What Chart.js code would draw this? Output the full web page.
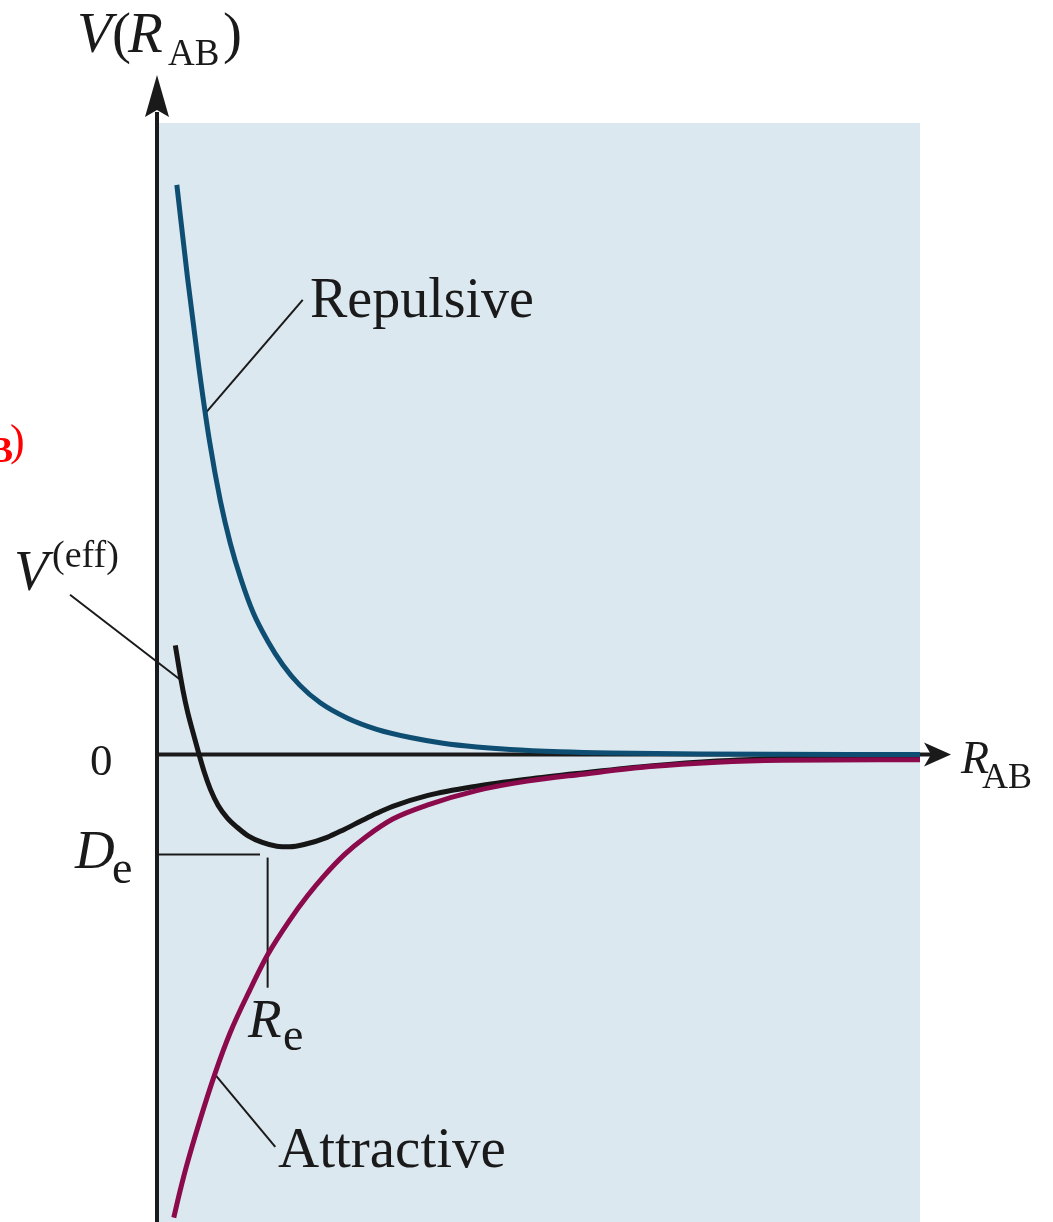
<!DOCTYPE html>
<html>
<head>
<meta charset="utf-8">
<script src="https://cdn.jsdelivr.net/npm/chart.js@4.4.1/dist/chart.umd.min.js"></script>
<style>
  html, body { margin: 0; padding: 0; background: #ffffff; }
  canvas { display: block; }
</style>
</head>
<body>
<canvas id="chart" width="1053" height="1222"></canvas>
<script>
// Potential energy curves V(R_AB) (arbitrary units)
const repulsiveR = [0.26, 0.40, 0.55, 0.69, 0.83, 0.96, 1.10, 1.26, 1.45, 1.65, 1.87, 2.14, 2.49, 2.88, 3.32, 3.75, 4.19, 4.63, 5.28, 5.94, 7.12, 10.0];
const repulsiveV = [9.02, 7.55, 6.12, 4.95, 4.02, 3.35, 2.78, 2.25, 1.80, 1.42, 1.10, 0.82, 0.58, 0.40, 0.27, 0.18, 0.12, 0.08, 0.045, 0.025, 0.01, 0.0];

const effectiveR = [0.24, 0.29, 0.34, 0.40, 0.47, 0.54, 0.62, 0.70, 0.80, 0.92, 1.05, 1.20, 1.38, 1.57, 1.74, 1.94, 2.23, 2.46, 2.66, 2.88, 3.09, 3.54, 4.19, 4.85, 5.58, 6.46, 7.34, 8.20, 9.08, 10.0];
const effectiveV = [1.73, 1.36, 1.02, 0.68, 0.36, 0.05, -0.28, -0.55, -0.80, -1.00, -1.15, -1.29, -1.39, -1.45, -1.46, -1.42, -1.31, -1.18, -1.06, -0.93, -0.82, -0.65, -0.50, -0.39, -0.29, -0.18, -0.10, -0.06, -0.04, -0.04];

const attractiveR = [0.22, 0.30, 0.39, 0.56, 0.76, 0.96, 1.22, 1.45, 1.74, 1.97, 2.19, 2.46, 2.74, 3.09, 3.54, 4.19, 4.85, 5.58, 6.46, 7.34, 8.20, 10.0];
const attractiveV = [-7.33, -6.92, -6.50, -5.80, -5.05, -4.40, -3.72, -3.17, -2.62, -2.24, -1.92, -1.58, -1.30, -1.02, -0.80, -0.57, -0.42, -0.31, -0.19, -0.12, -0.09, -0.08];

// Marked equilibrium point
const De = -1.58;
const Re = 1.45;

const toPoints = (xs, ys) => xs.map((x, i) => ({ x, y: ys[i] }));

// Background panel, axes with arrows, leader lines and labels
const diagramPlugin = {
  id: 'diagram',
  beforeDatasetsDraw(chart) {
    const { ctx, chartArea, scales } = chart;
    const x0 = scales.x.getPixelForValue(0);
    const y0 = scales.y.getPixelForValue(0);
    ctx.save();
    ctx.fillStyle = '#dce8f0';
    ctx.fillRect(chartArea.left, chartArea.top, chartArea.right - chartArea.left, chartArea.bottom - chartArea.top);

    ctx.strokeStyle = '#1a1a1a';
    ctx.fillStyle = '#1a1a1a';
    ctx.lineWidth = 4;
    // y axis
    ctx.beginPath();
    ctx.moveTo(x0, chartArea.bottom);
    ctx.lineTo(x0, 112);
    ctx.stroke();
    ctx.beginPath();
    ctx.moveTo(x0, 75);
    ctx.lineTo(x0 - 12, 117);
    ctx.lineTo(x0, 110);
    ctx.lineTo(x0 + 12, 117);
    ctx.closePath();
    ctx.fill();
    // x axis
    ctx.beginPath();
    ctx.moveTo(x0, y0);
    ctx.lineTo(932, y0);
    ctx.stroke();
    ctx.beginPath();
    ctx.moveTo(951, y0);
    ctx.lineTo(924, y0 - 12);
    ctx.lineTo(931, y0);
    ctx.lineTo(924, y0 + 12);
    ctx.closePath();
    ctx.fill();

    // leader lines in data units
    const seg = (xa, ya, xb, yb, w) => {
      ctx.lineWidth = w;
      ctx.beginPath();
      ctx.moveTo(scales.x.getPixelForValue(xa), scales.y.getPixelForValue(ya));
      ctx.lineTo(scales.x.getPixelForValue(xb), scales.y.getPixelForValue(yb));
      ctx.stroke();
    };
    seg(0, De, 1.35, De, 2);
    seg(Re, -1.63, Re, -3.69, 2);
    seg(1.91, 7.20, 0.63, 5.40, 2);
    seg(-1.14, 2.53, 0.31, 1.18, 2);
    seg(0.77, -5.08, 1.55, -6.21, 2);
    ctx.restore();
  },
  afterDraw(chart) {
    const { ctx } = chart;
    const serif = '"Liberation Serif", "DejaVu Serif", serif';
    const text = (s, x, y, size, italic, color, align) => {
      ctx.font = (italic ? 'italic ' : '') + size + 'px ' + serif;
      ctx.fillStyle = color || '#1a1a1a';
      ctx.textAlign = align || 'left';
      ctx.textBaseline = 'alphabetic';
      ctx.fillText(s, x, y);
    };
    ctx.save();
    // V(R_AB)
    text('V', 77, 52, 57, true);
    text('(', 112, 52, 57, false);
    text('R', 128, 52, 57, true);
    text('AB', 168, 65, 37, false);
    text(')', 223, 52, 57, false);
    // R_AB on the x axis
    text('R', 961, 773, 46, true);
    text('AB', 982, 788, 36, false);
    // zero
    text('0', 90, 775, 45, false);
    // D_e, R_e
    text('D', 75, 868, 55, true);
    text('e', 112, 883, 46, false);
    text('R', 248, 1037, 55, true);
    text('e', 283, 1050, 46, false);
    // V^(eff)
    text('V', 14, 590, 56, true);
    text('(eff)', 52, 567, 38, false);
    // curve names
    text('Repulsive', 310, 317, 56, false);
    text('Attractive', 278, 1167, 57, false);
    // red fragment cut at the left edge
    ctx.font = 'bold 36px ' + serif;
    ctx.fillStyle = '#ff0000';
    ctx.textAlign = 'right';
    ctx.fillText('AB', 13, 462);
    ctx.font = '44px ' + serif;
    ctx.textAlign = 'left';
    ctx.fillText(')', 10, 455);
    ctx.restore();
  }
};

const lineStyle = (color) => ({
  borderColor: color,
  borderWidth: 5,
  pointRadius: 0,
  showLine: true,
  fill: false,
  cubicInterpolationMode: 'monotone',
  borderCapStyle: 'butt'
});

new Chart(document.getElementById('chart').getContext('2d'), {
  type: 'scatter',
  data: {
    datasets: [
      { label: 'Attractive', data: toPoints(attractiveR, attractiveV), ...lineStyle('#8a0a4c') },
      { label: 'Repulsive', data: toPoints(repulsiveR, repulsiveV), ...lineStyle('#0e4e72') },
      { label: 'V(eff)', data: toPoints(effectiveR, effectiveV), ...lineStyle('#161616') }
    ]
  },
  options: {
    responsive: false,
    animation: false,
    layout: { padding: { left: 157, right: 133, top: 123, bottom: 0 } },
    scales: {
      x: { type: 'linear', min: 0, max: 10, display: false },
      y: { type: 'linear', min: -7.4, max: 10, display: false }
    },
    plugins: {
      legend: { display: false },
      tooltip: { enabled: false }
    }
  },
  plugins: [diagramPlugin]
});
</script>
</body>
</html>
